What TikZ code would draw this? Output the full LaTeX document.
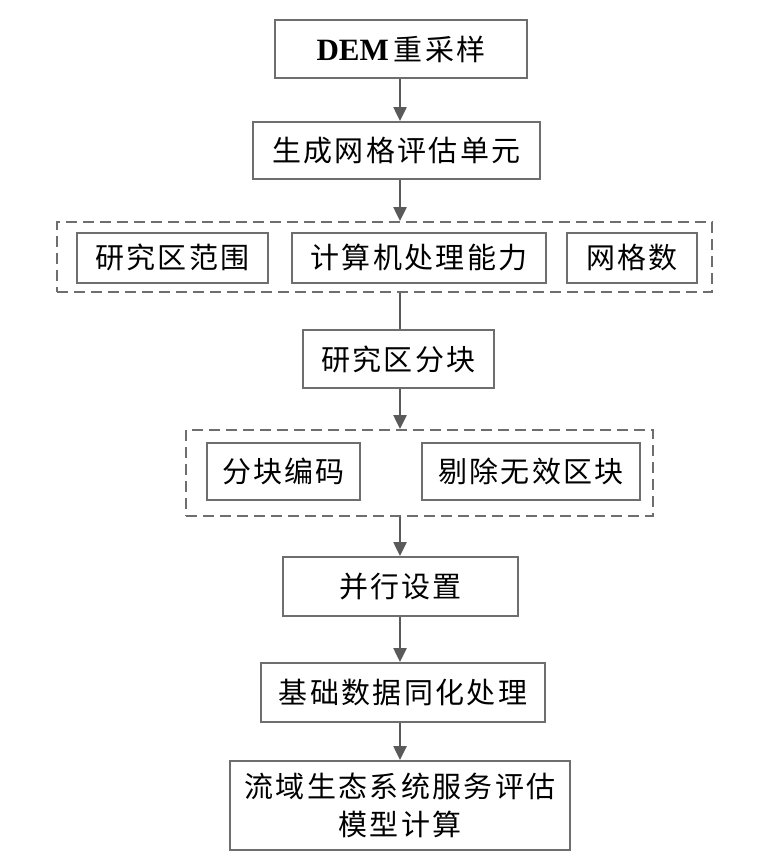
\documentclass[tikz,border=0pt]{standalone}
\usepackage{fontspec}
\setmainfont{Liberation Serif}
\newfontfamily\cjk[LetterSpace=8]{Noto Sans CJK SC}
\usetikzlibrary{arrows.meta}
\definecolor{boxgray}{HTML}{6E6E6E}
\definecolor{arrgray}{HTML}{5A5A5A}
\tikzset{
  stepbox/.style={draw=boxgray, line width=2pt, fill=white, inner sep=0pt, font=\cjk\fontsize{29}{38}\selectfont, align=center, text=black},
  groupbox/.style={draw=boxgray, line width=2pt, dash pattern=on 11pt off 6pt, inner sep=0pt},
  arr/.style={draw=arrgray, line width=2.5pt, -{Triangle[width=13pt,length=14pt]}},
  link/.style={draw=arrgray, line width=2.5pt}
}
\begin{document}
\begin{tikzpicture}[x=1pt,y=-1pt]
\useasboundingbox (0,0) rectangle (778,867);
\node[stepbox, minimum width=252pt, minimum height=58pt] (dem) at (401,49) {{\rmfamily\bfseries\fontsize{31}{38}\selectfont DEM}\hspace{5pt}重采样};
\node[stepbox, minimum width=287pt, minimum height=57pt] (grid) at (396.5,150.5) {生成网格评估单元};
\node[groupbox, minimum width=655pt, minimum height=70pt] (g1) at (384.3,257) {};
\node[stepbox, minimum width=191pt, minimum height=50pt] (area) at (172.5,257.5) {研究区范围};
\node[stepbox, minimum width=254pt, minimum height=50pt] (cpu) at (419,257.5) {计算机处理能力};
\node[stepbox, minimum width=130pt, minimum height=50pt] (num) at (632,257.5) {网格数};
\node[stepbox, minimum width=191pt, minimum height=58pt] (blk) at (398.5,359) {研究区分块};
\node[groupbox, minimum width=467pt, minimum height=86pt] (g2) at (419.5,473) {};
\node[stepbox, minimum width=153pt, minimum height=57pt] (code) at (283.5,471.5) {分块编码};
\node[stepbox, minimum width=218pt, minimum height=57pt] (rm) at (531,471.5) {剔除无效区块};
\node[stepbox, minimum width=235pt, minimum height=59pt] (par) at (400.5,586.5) {并行设置};
\node[stepbox, minimum width=284pt, minimum height=59pt] (base) at (403,692.5) {基础数据同化处理};
\node[stepbox, minimum width=340pt, minimum height=89pt] (fin) at (400,805.5) {流域生态系统服务评估\\模型计算};
\coordinate (ax) at (400,0);
\draw[arr] (dem.south -| ax) -- (grid.north -| ax);
\draw[arr] (grid.south -| ax) -- (g1.north -| ax);
\draw[link] (g1.south -| ax) -- (blk.north -| ax);
\draw[arr] (blk.south -| ax) -- (g2.north -| ax);
\draw[arr] (g2.south -| ax) -- (par.north -| ax);
\draw[arr] (par.south -| ax) -- (base.north -| ax);
\draw[arr] (base.south -| ax) -- (fin.north -| ax);
\end{tikzpicture}
\end{document}
